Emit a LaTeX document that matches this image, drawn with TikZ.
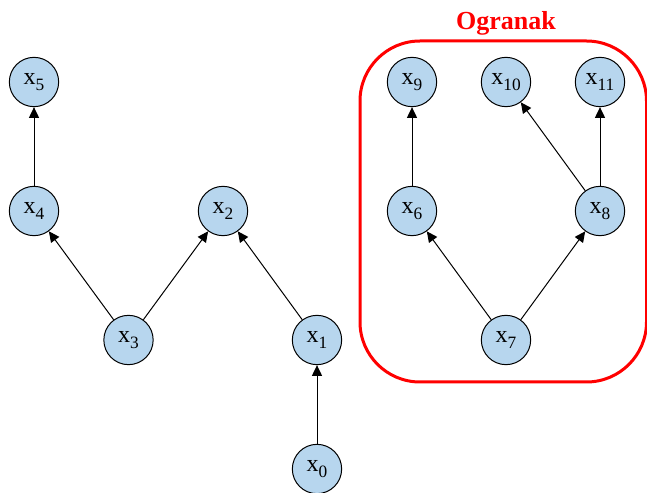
\documentclass[tikz,border=0pt]{standalone}
\usepackage{fontspec}
\setmainfont{Liberation Serif}
\usetikzlibrary{arrows.meta}
\definecolor{NodeFill}{HTML}{B7D6EE}
\definecolor{NodeInk}{HTML}{000000}
\definecolor{BranchRed}{HTML}{FF0000}
\newcommand{\varlabel}[1]{x\raisebox{-4.5pt}{\fontsize{13}{13}\selectfont #1}}
\tikzset{
  every node/.style={font=\fontsize{18}{20}\selectfont, text=NodeInk},
  varnode/.style={circle, draw=NodeInk, line width=0.75pt, fill=NodeFill, minimum size=37pt, inner sep=0pt},
  edge/.style={-{Triangle[length=8pt,width=7.5pt]}, draw=NodeInk, line width=0.75pt},
  branch/.style={draw=BranchRed, line width=2.25pt, rounded corners=45pt},
}
\begin{document}
\begin{tikzpicture}[x=0.75pt,y=0.75pt]
  \useasboundingbox (0,0) rectangle (647,493);
  % Branch frame and its title
  \draw[branch] (360,111) rectangle (646.5,452);
  \node[font=\fontsize{19.5}{22}\selectfont\bfseries, text=BranchRed] (title) at (506,470) {Ogranak};
  % Left tree
  \node[varnode] (x5) at (34,411) {\varlabel{5}};
  \node[varnode] (x4) at (34,282) {\varlabel{4}};
  \node[varnode] (x2) at (223,282) {\varlabel{2}};
  \node[varnode] (x3) at (128.5,153) {\varlabel{3}};
  \node[varnode] (x1) at (317,153) {\varlabel{1}};
  \node[varnode] (x0) at (317,24) {\varlabel{0}};
  % Branch nodes
  \node[varnode] (x9) at (412,411) {\varlabel{9}};
  \node[varnode] (x10) at (506,411) {\varlabel{10}};
  \node[varnode] (x11) at (600,411) {\varlabel{11}};
  \node[varnode] (x6) at (412,282) {\varlabel{6}};
  \node[varnode] (x8) at (600,282) {\varlabel{8}};
  \node[varnode] (x7) at (506,153) {\varlabel{7}};
  % Edges
  \foreach \from/\to in {x4/x5, x3/x4, x3/x2, x1/x2, x0/x1, x6/x9, x7/x6, x7/x8, x8/x10, x8/x11}
    \draw[edge] (\from) -- (\to);
\end{tikzpicture}
\end{document}
